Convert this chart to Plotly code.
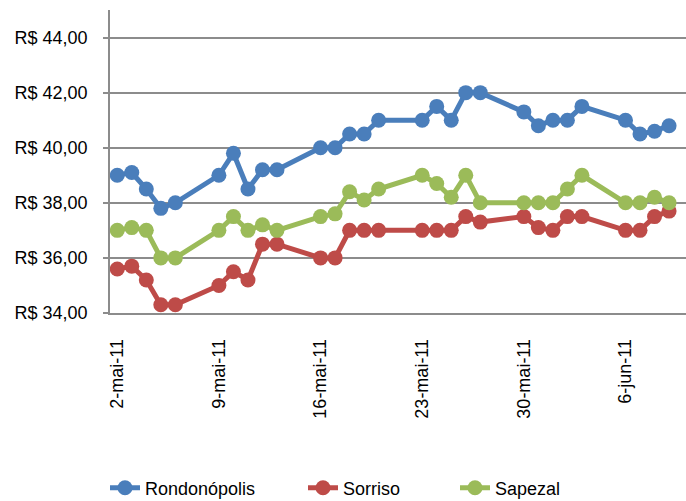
import plotly.graph_objects as go

dates = ["2011-05-02", "2011-05-03", "2011-05-04", "2011-05-05", "2011-05-06",
         "2011-05-09", "2011-05-10", "2011-05-11", "2011-05-12", "2011-05-13",
         "2011-05-16", "2011-05-17", "2011-05-18", "2011-05-19", "2011-05-20",
         "2011-05-23", "2011-05-24", "2011-05-25", "2011-05-26", "2011-05-27",
         "2011-05-30", "2011-05-31", "2011-06-01", "2011-06-02", "2011-06-03",
         "2011-06-06", "2011-06-07", "2011-06-08", "2011-06-09"]

rondonopolis = [39.0, 39.1, 38.5, 37.8, 38.0, 39.0, 39.8, 38.5, 39.2, 39.2,
                40.0, 40.0, 40.5, 40.5, 41.0, 41.0, 41.5, 41.0, 42.0, 42.0,
                41.3, 40.8, 41.0, 41.0, 41.5, 41.0, 40.5, 40.6, 40.8]
sorriso = [35.6, 35.7, 35.2, 34.3, 34.3, 35.0, 35.5, 35.2, 36.5, 36.5,
           36.0, 36.0, 37.0, 37.0, 37.0, 37.0, 37.0, 37.0, 37.5, 37.3,
           37.5, 37.1, 37.0, 37.5, 37.5, 37.0, 37.0, 37.5, 37.7]
sapezal = [37.0, 37.1, 37.0, 36.0, 36.0, 37.0, 37.5, 37.0, 37.2, 37.0,
           37.5, 37.6, 38.4, 38.1, 38.5, 39.0, 38.7, 38.2, 39.0, 38.0,
           38.0, 38.0, 38.0, 38.5, 39.0, 38.0, 38.0, 38.2, 38.0]

tick_dates = ["2011-05-02", "2011-05-09", "2011-05-16", "2011-05-23", "2011-05-30", "2011-06-06"]
tick_labels = ["2-mai-11", "9-mai-11", "16-mai-11", "23-mai-11", "30-mai-11", "6-jun-11"]

series = [
    ("Rondonópolis", rondonopolis, "#4A7EBB", "legend"),
    ("Sorriso", sorriso, "#BE4B48", "legend2"),
    ("Sapezal", sapezal, "#9BBB59", "legend3"),
]

FONT = "Liberation Sans, Arial, sans-serif"
GRID = "#8C8C8C"

fig = go.Figure()
for name, vals, color, lg in series:
    fig.add_trace(go.Scatter(
        x=dates, y=vals, name=name, mode="lines+markers",
        line=dict(color=color, width=5),
        marker=dict(color=color, size=15),
        legend=lg, showlegend=True,
    ))

legend_common = dict(orientation="h", xref="container", yref="container",
                     yanchor="middle", y=1 - 488 / 501, xanchor="left",
                     bgcolor="rgba(0,0,0,0)", borderwidth=0,
                     font=dict(family=FONT, size=18, color="#000000"))

fig.update_layout(
    width=686, height=501,
    showlegend=True,
    margin=dict(l=110, r=0, t=10, b=188),
    paper_bgcolor="white", plot_bgcolor="white",
    separators=",.",
    font=dict(family=FONT, size=18, color="#000000"),
    legend=dict(x=105 / 686, **legend_common),
    legend2=dict(x=303 / 686, **legend_common),
    legend3=dict(x=455 / 686, **legend_common),
    xaxis=dict(
        type="date", automargin=False,
        range=["2011-05-01 12:00", "2011-06-10 04:00"],
        tickvals=tick_dates, ticktext=tick_labels,
        tickangle=-90, ticks="", ticklabelstandoff=17,
        showgrid=False, zeroline=False,
        showline=True, linecolor=GRID, linewidth=1.5,
        tickfont=dict(family=FONT, size=18, color="#000000"),
    ),
    yaxis=dict(
        range=[34, 45], tick0=34, dtick=2, automargin=False,
        tickformat=".2f", tickprefix="R$ ",
        ticks="outside", ticklen=5, tickcolor=GRID, tickwidth=1.5,
        ticklabelstandoff=12,
        showgrid=True, gridcolor=GRID, gridwidth=1.5,
        zeroline=False,
        showline=True, linecolor=GRID, linewidth=1.5,
        tickfont=dict(family=FONT, size=18, color="#000000"),
    ),
)

fig.write_html("out.html", config={"displayModeBar": False},
               post_script="document.body.style.margin='0';document.body.style.overflow='hidden';")
